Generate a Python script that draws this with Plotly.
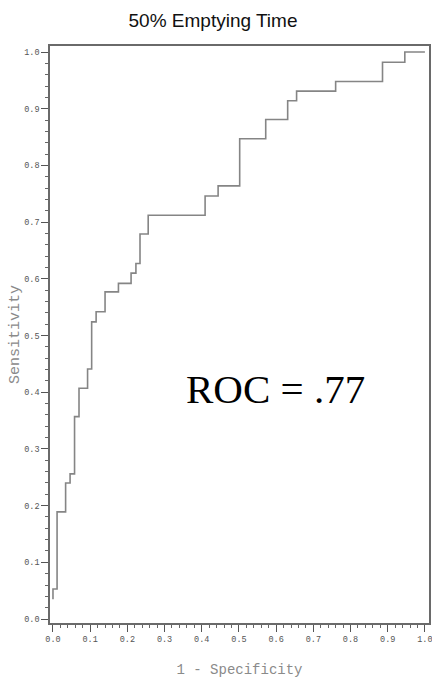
import plotly.graph_objects as go

# ROC step curve (1 - specificity, sensitivity)
fpr = [0.0, 0.0, 0.011, 0.034, 0.046, 0.058, 0.070, 0.093, 0.104, 0.116,
       0.140, 0.176, 0.210, 0.223, 0.234, 0.256, 0.409, 0.444, 0.502, 0.572,
       0.631, 0.655, 0.760, 0.886, 0.946, 1.0]
tpr = [0.035, 0.053, 0.189, 0.240, 0.256, 0.357, 0.407, 0.441, 0.524, 0.542,
       0.577, 0.592, 0.610, 0.627, 0.679, 0.712, 0.746, 0.764, 0.847, 0.881,
       0.914, 0.931, 0.948, 0.982, 1.0, 1.0]

title_text = "50% Emptying Time"
x_title = "1 - Specificity"
y_title = "Sensitivity"
roc_label = "ROC = .77"
tick_vals = [0.0, 0.1, 0.2, 0.3, 0.4, 0.5, 0.6, 0.7, 0.8, 0.9, 1.0]

fig = go.Figure()
fig.add_trace(go.Scatter(
    x=fpr, y=tpr, mode="lines", line=dict(shape="hv", color="#858585", width=1.6),
    showlegend=False, hoverinfo="skip"))

axis_common = dict(
    automargin=False,
    showline=True, linecolor="#6a6a6a", linewidth=1.5, mirror=True,
    showgrid=False, zeroline=False,
    ticks="outside", ticklen=7, tickwidth=1.2, tickcolor="#555555",
    tickvals=tick_vals, tickformat=".1f", ticklabeloverflow="allow",
    tickfont=dict(family="Liberation Mono", size=8.5, color="#555555"),
    minor=dict(dtick=0.02, ticks="outside", ticklen=3, tickwidth=1, tickcolor="#666666"),
)

fig.update_xaxes(range=[-0.008, 1.011],
                 title=dict(text=x_title, standoff=20,
                            font=dict(family="Liberation Mono", size=14, color="#8a8a8a")),
                 **axis_common)
fig.update_yaxes(range=[-0.007, 1.0106],
                 title=dict(text=y_title, standoff=1,
                            font=dict(family="Liberation Mono", size=15, color="#8a8a8a")),
                 **axis_common)

fig.add_annotation(x=0.597, y=0.406, xref="x", yref="y", text=roc_label,
                   showarrow=False,
                   font=dict(family="Liberation Serif", size=41, color="#000000"))

fig.update_layout(
    width=432, height=681,
    margin=dict(l=50, r=3, t=46, b=58, autoexpand=False),
    paper_bgcolor="white", plot_bgcolor="white",
    title=dict(text=title_text, x=213 / 432, xref="container", xanchor="center",
               y=1 - 20 / 681, yref="container", yanchor="middle",
               font=dict(family="Liberation Sans", size=19, color="#111111")),
)

fig.write_html("out.html", config={"displayModeBar": False},
               post_script="document.body.style.margin='0';document.body.style.overflow='hidden';")
